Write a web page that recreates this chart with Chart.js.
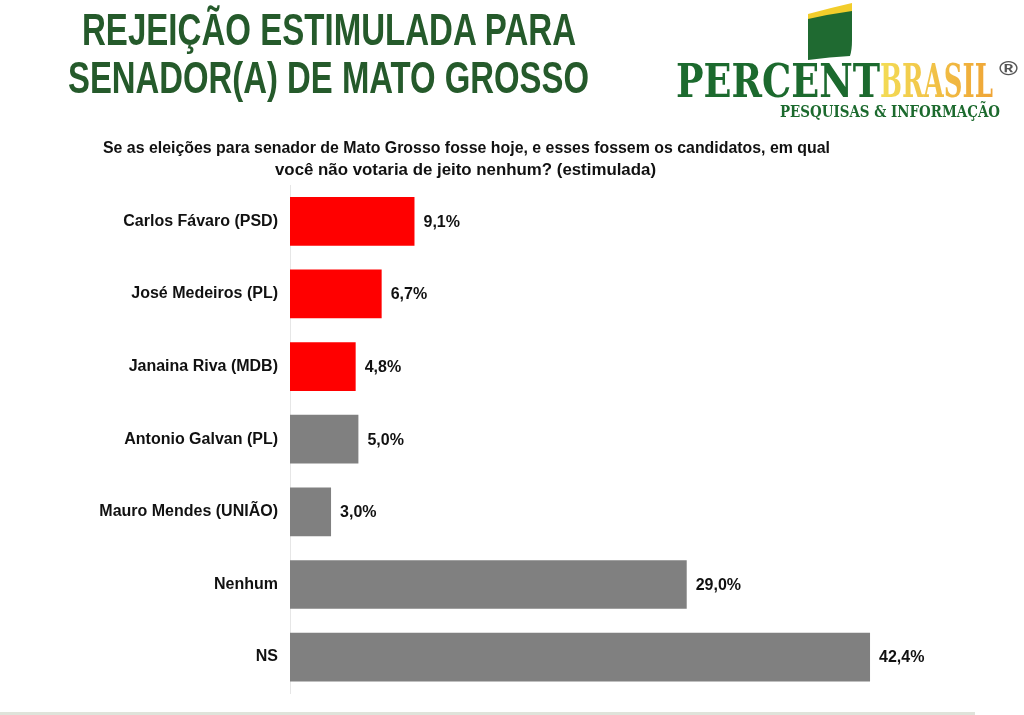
<!DOCTYPE html>
<html>
<head>
<meta charset="utf-8">
<script src="https://cdn.jsdelivr.net/npm/chart.js@4.4.1/dist/chart.umd.min.js"></script>
<style>
  html,body{margin:0;padding:0;background:#fff;width:1024px;height:715px;overflow:hidden;}
  #wrap{position:absolute;left:0;top:0;width:1024px;height:715px;}
  .t{position:absolute;white-space:nowrap;line-height:1;transform-origin:0 0;margin:0;}
  .title{font-family:"Liberation Sans Narrow","Liberation Sans",Arial,sans-serif;font-weight:bold;font-size:44px;color:#255a2b;}
  .sub{font-family:"Liberation Sans Narrow","Liberation Sans",Arial,sans-serif;font-weight:bold;font-size:17px;color:#111;}
  .logo1{font-family:"DejaVu Serif","Liberation Serif",serif;font-stretch:condensed;font-weight:bold;font-size:46px;color:#1c6a2e;}
  .logo2{font-family:"DejaVu Serif","Liberation Serif",serif;font-stretch:condensed;font-weight:bold;font-size:46px;background:linear-gradient(90deg,#f3dc55,#efa436);-webkit-background-clip:text;background-clip:text;color:transparent;}
  .logo3{font-family:"DejaVu Serif","Liberation Serif",serif;font-stretch:condensed;font-weight:bold;font-size:16px;color:#1c6a2e;}
  .reg{font-family:"Liberation Sans",sans-serif;font-weight:bold;font-size:20px;color:#555;}
  #bline{position:absolute;left:0;top:712px;width:975px;height:3px;background:#dfe3da;}
</style>
</head>
<body>
<div id="wrap"><canvas id="c" width="1024" height="715"></canvas></div>

<div class="t title" data-x="82" data-w="494" data-b="45">REJEIÇÃO ESTIMULADA PARA</div>
<div class="t title" data-x="68" data-w="521" data-b="93">SENADOR(A) DE MATO GROSSO</div>
<div class="t sub" data-x="103" data-w="727" data-b="153">Se as eleições para senador de Mato Grosso fosse hoje, e esses fossem os candidatos, em qual</div>
<div class="t sub" data-x="275" data-w="381" data-b="175">você não votaria de jeito nenhum? (estimulada)</div>

<svg style="position:absolute;left:800px;top:0px" width="60" height="66" viewBox="0 0 60 66">
  <path d="M8 14 Q30 8 52 3 L52 12 Q30 15 8 20 Z" fill="#f2cd2b"/>
  <path d="M8 19 Q30 14 52 11 L52 40 Q52 50 50 56 Q30 57 8 60 Z" fill="#1f6a31"/>
</svg>
<div class="t logo1" data-x="676" data-w="204" data-b="97">PERCENT</div>
<div class="t logo2" data-x="880" data-w="113" data-b="97">BRASIL</div>
<div class="t reg" data-x="999" data-w="19" data-b="75">®</div>
<div class="t logo3" data-x="780" data-w="220" data-b="118">PESQUISAS &amp; INFORMAÇÃO</div>

<div id="bline"></div>

<script>
const categories = ["Carlos Fávaro (PSD)","José Medeiros (PL)","Janaina Riva (MDB)","Antonio Galvan (PL)","Mauro Mendes (UNIÃO)","Nenhum","NS"];
const values = [9.1, 6.7, 4.8, 5.0, 3.0, 29.0, 42.4];
const barColors = ["#ff0000","#ff0000","#ff0000","#808080","#808080","#808080","#808080"];
const valueLabels = ["9,1%","6,7%","4,8%","5,0%","3,0%","29,0%","42,4%"];

// fit HTML text widths / baselines
document.querySelectorAll('.t').forEach(el=>{
  const fs = parseFloat(getComputedStyle(el).fontSize);
  const w = el.getBoundingClientRect().width;
  const target = parseFloat(el.dataset.w);
  el.style.left = el.dataset.x + 'px';
  el.style.top = (parseFloat(el.dataset.b) - 0.8465*fs) + 'px';
  el.style.transform = 'scaleX(' + (target/w) + ')';
});

const valuePlugin = {
  id:'valueLabels',
  afterDatasetsDraw(chart){
    const ctx = chart.ctx;
    const meta = chart.getDatasetMeta(0);
    ctx.save();
    ctx.font = 'bold 16px "Liberation Sans", Arial, sans-serif';
    ctx.fillStyle = '#111';
    ctx.textAlign = 'left';
    ctx.textBaseline = 'middle';
    meta.data.forEach((bar,i)=>{
      ctx.fillText(valueLabels[i], bar.x + 9, bar.y + 1);
    });
    ctx.restore();
  }
};

new Chart(document.getElementById('c'), {
  type:'bar',
  data:{
    labels:categories,
    datasets:[{data:values, backgroundColor:barColors, borderWidth:0, barPercentage:0.67, categoryPercentage:1.0}]
  },
  options:{
    indexAxis:'y',
    responsive:false,
    animation:false,
    layout:{padding:{top:185,bottom:18,right:50,left:0}},
    plugins:{legend:{display:false},tooltip:{enabled:false}},
    scales:{
      x:{display:false,min:0,max:50},
      y:{
        afterFit(scale){scale.width = 290;},
        grid:{display:false,drawTicks:false},
        border:{display:true,color:'#e6e6e6',width:1},
        ticks:{color:'#111',padding:12,font:{family:'"Liberation Sans", Arial, sans-serif',weight:'bold',size:16}}
      }
    }
  },
  plugins:[valuePlugin]
});
</script>
</body>
</html>
